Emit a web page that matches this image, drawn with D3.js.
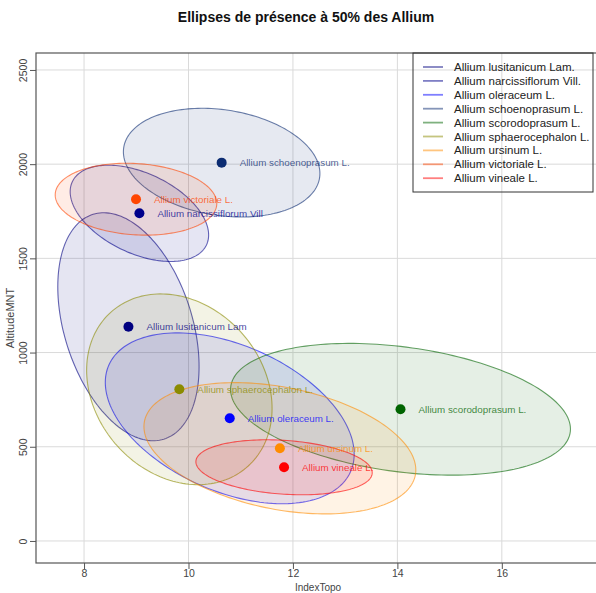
<!DOCTYPE html>
<html>
<head>
<meta charset="utf-8">
<script src="https://cdn.jsdelivr.net/npm/d3@7"></script>
<style>
  html, body { margin: 0; padding: 0; background: #fff; }
  svg { display: block; font-family: "Liberation Sans", Arial, sans-serif; }
</style>
</head>
<body>
<svg id="chart" width="596" height="593"></svg>
<script>
// ---- data ----
const species = ["Allium lusitanicum Lam.", "Allium narcissiflorum Vill.", "Allium oleraceum L.",
  "Allium schoenoprasum L.", "Allium scorodoprasum L.", "Allium sphaerocephalon L.",
  "Allium ursinum L.", "Allium victoriale L.", "Allium vineale L."];
const pointLabels = ["Allium lusitanicum Lam", "Allium narcissiflorum Vill", "Allium oleraceum L.",
  "Allium schoenoprasum L.", "Allium scorodoprasum L.", "Allium sphaerocephalon L.",
  "Allium ursinum L.", "Allium victoriale L.", "Allium vineale L."];
const meanIndexTopo = [8.85, 9.06, 10.79, 10.635, 14.06, 9.825, 11.75, 8.995, 11.83];
const meanAltitude  = [1137, 1739, 651, 2008, 699, 805, 492, 1814, 391];
const sdIndexTopo   = [1.149, 1.126, 2.024, 1.598, 2.764, 1.508, 2.211, 1.314, 1.434];
const sdAltitude    = [514, 217, 385, 245, 297, 430, 296, 162, 124];
const correlation   = [-0.35, -0.45, -0.42, -0.2, -0.3, -0.2, -0.33, -0.12, -0.2];
const colors = ["#000080", "#00008B", "#0000FF", "#0C2C72", "#006400", "#8B8B00", "#FF8C00", "#FF4500", "#FF0000"];
const xTicks = [8, 10, 12, 14, 16];
const yTicks = [0, 500, 1000, 1500, 2000, 2500];
const level = 0.5;

// ---- layout ----
const svg = d3.select("#chart");
const L = 36, R = 600, T = 53, B = 563;
const x = d3.scaleLinear().domain([7.08, 17.88]).range([L, R]);
const y = d3.scaleLinear().domain([-117, 2590]).range([B, T]);

// grid
const grid = svg.append("g").attr("stroke", "#dadada").attr("stroke-width", 1);
grid.selectAll("line.v").data(xTicks).join("line")
  .attr("x1", d => x(d)).attr("x2", d => x(d)).attr("y1", T).attr("y2", B);
grid.selectAll("line.h").data(yTicks).join("line")
  .attr("y1", d => y(d)).attr("y2", d => y(d)).attr("x1", L).attr("x2", R);

// ellipses
const k = Math.sqrt(-2 * Math.log(1 - level));
const ts = d3.range(0, 2 * Math.PI, Math.PI / 90);
const data = species.map((s, i) => ({
  name: s, label: pointLabels[i], mx: meanIndexTopo[i], my: meanAltitude[i],
  sx: sdIndexTopo[i], sy: sdAltitude[i], r: correlation[i], color: colors[i]
}));
const line = d3.line().curve(d3.curveLinearClosed);
const gE = svg.append("g");
data.forEach(d => {
  const pts = ts.map(t => [
    x(d.mx + k * d.sx * Math.cos(t)),
    y(d.my + k * d.sy * (d.r * Math.cos(t) + Math.sqrt(1 - d.r * d.r) * Math.sin(t)))
  ]);
  gE.append("path").attr("d", line(pts))
    .attr("fill", d.color).attr("fill-opacity", 0.1)
    .attr("stroke", d.color).attr("stroke-opacity", 0.6).attr("stroke-width", 1.1);
});

// points
svg.append("g").selectAll("circle").data(data).join("circle")
  .attr("cx", d => x(d.mx)).attr("cy", d => y(d.my)).attr("r", 5)
  .attr("fill", d => d.color);

// labels
svg.append("g").selectAll("text").data(data).join("text")
  .attr("x", d => x(d.mx) + 18).attr("y", d => y(d.my) + 3.5)
  .attr("font-size", 9.8).attr("fill", d => d.color).attr("fill-opacity", 0.75)
  .text(d => d.label);

// frame
svg.append("rect").attr("x", L).attr("y", T).attr("width", R - L).attr("height", B - T)
  .attr("fill", "none").attr("stroke", "#555").attr("stroke-width", 1.2);

// axes
const xAxis = d3.axisBottom(x).tickValues(xTicks).tickSize(6).tickPadding(1).tickFormat(d3.format("d"));
const gx = svg.append("g").attr("transform", `translate(0,${B})`).call(xAxis);
gx.select(".domain").remove();
gx.selectAll("line").attr("stroke", "#555");
gx.selectAll("text").attr("font-size", 10.5).attr("fill", "#444").attr("font-family", "Liberation Sans, Arial, sans-serif");

const yAxis = d3.axisLeft(y).tickValues(yTicks).tickSize(6).tickFormat(d3.format("d"));
const gy = svg.append("g").attr("transform", `translate(${L},0)`).call(yAxis);
gy.select(".domain").remove();
gy.selectAll("line").attr("stroke", "#555");
gy.selectAll("text")
  .attr("font-size", 10.5).attr("fill", "#444").attr("font-family", "Liberation Sans, Arial, sans-serif")
  .attr("dy", null)
  .attr("text-anchor", "middle")
  .attr("transform", "translate(-9,0) rotate(-90)")
  .attr("x", 0).attr("y", 0);

// titles
svg.append("text").attr("x", 306).attr("y", 22).attr("text-anchor", "middle")
  .attr("font-size", 14).attr("font-weight", "bold").attr("fill", "#111")
  .text("Ellipses de présence à 50% des Allium");
svg.append("text").attr("x", 318).attr("y", 590.5).attr("text-anchor", "middle")
  .attr("font-size", 10).attr("fill", "#444").text("IndexTopo");
svg.append("text").attr("transform", "translate(14,318) rotate(-90)").attr("text-anchor", "middle")
  .attr("font-size", 11).attr("fill", "#444").text("AltitudeMNT");

// legend
const lg = svg.append("g");
lg.append("rect").attr("x", 413).attr("y", 53).attr("width", 180).attr("height", 139)
  .attr("fill", "none").attr("stroke", "#333").attr("stroke-width", 1);
const rows = lg.selectAll("g.row").data(data).join("g")
  .attr("transform", (d, i) => `translate(0,${67 + i * 13.9})`);
rows.append("line").attr("x1", 423).attr("x2", 443)
  .attr("stroke", d => d.color).attr("stroke-opacity", 0.5).attr("stroke-width", 1.8);
rows.append("text").attr("x", 454).attr("dy", "0.35em").attr("font-size", 11.5).attr("fill", "#222")
  .text(d => d.name);
</script>
</body>
</html>
